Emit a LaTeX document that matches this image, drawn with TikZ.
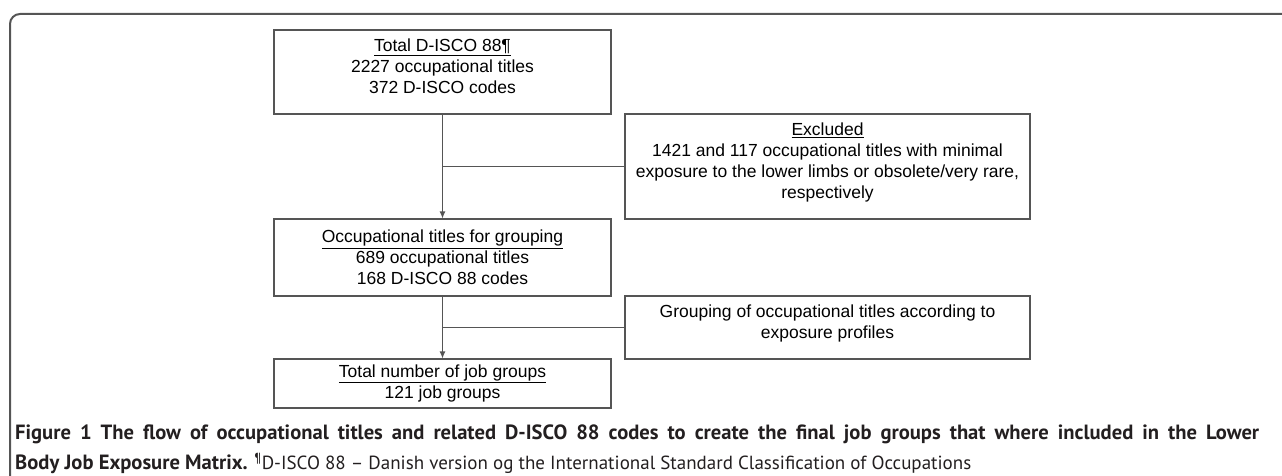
\documentclass[tikz,border=0pt]{standalone}
\usepackage{fontspec}
\setmainfont{Liberation Sans}
\newfontfamily\capfont{PT Sans}
\usetikzlibrary{arrows.meta}
\definecolor{linegray}{HTML}{555555}
\definecolor{captext}{HTML}{231F20}
\tikzset{
  flowbox/.style={draw=linegray, line width=1.1pt, align=center, inner sep=0pt,
    font=\fontsize{17.5}{21}\selectfont, text=black},
  flowline/.style={draw=linegray, line width=1.1pt},
  caption/.style={anchor=base west, inner sep=0pt, text=captext,
    font=\capfont\bfseries\fontsize{20.6}{22}\selectfont}
}
\newcommand{\capplain}{\mdseries\fontsize{19}{22}\selectfont}
\begin{document}
\begin{tikzpicture}[x=1pt,y=-1pt]
\useasboundingbox (0,0) rectangle (1282,476);

% frame round the figure
\coordinate (fbl) at (10,476);
\coordinate (ftl) at (10,14);
\coordinate (ftr) at (1282,14);
\draw[draw=linegray, line width=2pt, rounded corners=10pt] (fbl) -- (ftl) -- (ftr);

% main column
\node[flowbox, minimum width=337, minimum height=84] (total) at (442.5,72)
  {\underline{Total D-ISCO 88¶}\\2227 occupational titles\\372 D-ISCO codes\\[-10pt]};
\node[flowbox, minimum width=337, minimum height=77] (grouping) at (442.5,257.5)
  {\underline{Occupational titles for grouping}\\689 occupational titles\\168 D-ISCO 88 codes};
\node[flowbox, minimum width=337, minimum height=49] (jobgroups) at (442.5,383.5)
  {\underline{Total number of job groups}\\121 job groups};

% side boxes
\node[flowbox, minimum width=405, minimum height=105] (excluded) at (827.5,166.5)
  {\underline{Excluded}\\1421 and 117 occupational titles with minimal\\exposure to the lower limbs or obsolete/very rare,\\respectively\\[-9pt]};
\node[flowbox, minimum width=405, minimum height=63] (profiles) at (827.5,327.5)
  {Grouping of occupational titles according to\\exposure profiles\\[-10pt]};

% connectors
\draw[flowline, -{Latex[length=7pt,width=6pt]}] (total.south) -- (grouping.north);
\draw[flowline, -{Latex[length=7pt,width=6pt]}] (grouping.south) -- (jobgroups.north);
\draw[flowline] (total.south |- excluded.west) -- (excluded.west);
\draw[flowline] (grouping.south |- profiles.west) -- (profiles.west);

% caption
\node[caption] (capone) at (15,439)
  {\makebox[1244pt][s]{Figure 1 The flow of occupational titles and related D-ISCO 88 codes to create the final job groups that where included in the Lower}};
\node[caption] (captwo) at (15,469)
  {Body Job Exposure Matrix. {\capplain\textsuperscript{¶}D-ISCO 88 – Danish version og the International Standard Classification of Occupations}};
\end{tikzpicture}
\end{document}
